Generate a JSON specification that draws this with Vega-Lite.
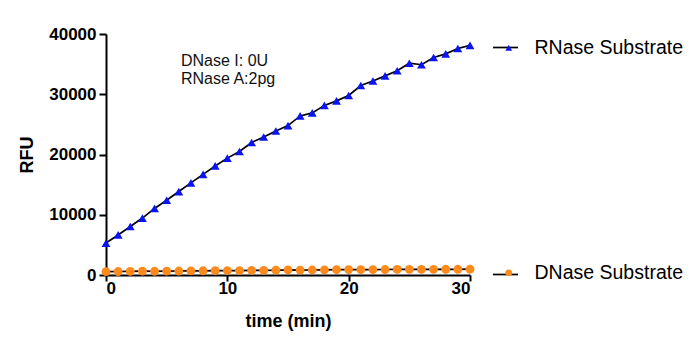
{
  "$schema": "https://vega.github.io/schema/vega-lite/v6.json",
  "width": 364,
  "height": 241,
  "autosize": {"type": "none"},
  "padding": {"left": 106, "top": 34, "right": 230, "bottom": 76},
  "background": "white",
  "config": {
    "view": {"stroke": null},
    "font": "Liberation Sans",
    "axis": {
      "grid": false,
      "domainColor": "black",
      "domainWidth": 2,
      "tickColor": "black",
      "tickWidth": 2,
      "tickSize": 7,
      "labelColor": "black",
      "labelFont": "Liberation Sans",
      "labelFontWeight": "bold",
      "labelFontSize": 17,
      "titleColor": "black",
      "titleFont": "Liberation Sans",
      "titleFontWeight": "bold",
      "titleFontSize": 18
    },
    "legend": {
      "labelFont": "Liberation Sans",
      "labelFontSize": 19.5,
      "labelColor": "black",
      "padding": 0,
      "offset": 0
    }
  },
  "data": {
    "values": [
      {"t": 0, "series": "RNase Substrate", "rfu": 5300},
      {"t": 1, "series": "RNase Substrate", "rfu": 6650},
      {"t": 2, "series": "RNase Substrate", "rfu": 8050},
      {"t": 3, "series": "RNase Substrate", "rfu": 9450},
      {"t": 4, "series": "RNase Substrate", "rfu": 11050},
      {"t": 5, "series": "RNase Substrate", "rfu": 12400},
      {"t": 6, "series": "RNase Substrate", "rfu": 13850},
      {"t": 7, "series": "RNase Substrate", "rfu": 15300},
      {"t": 8, "series": "RNase Substrate", "rfu": 16700},
      {"t": 9, "series": "RNase Substrate", "rfu": 18100},
      {"t": 10, "series": "RNase Substrate", "rfu": 19400},
      {"t": 11, "series": "RNase Substrate", "rfu": 20500},
      {"t": 12, "series": "RNase Substrate", "rfu": 22000},
      {"t": 13, "series": "RNase Substrate", "rfu": 22900},
      {"t": 14, "series": "RNase Substrate", "rfu": 23900},
      {"t": 15, "series": "RNase Substrate", "rfu": 24800},
      {"t": 16, "series": "RNase Substrate", "rfu": 26400},
      {"t": 17, "series": "RNase Substrate", "rfu": 26900},
      {"t": 18, "series": "RNase Substrate", "rfu": 28150},
      {"t": 19, "series": "RNase Substrate", "rfu": 28900},
      {"t": 20, "series": "RNase Substrate", "rfu": 29800},
      {"t": 21, "series": "RNase Substrate", "rfu": 31450},
      {"t": 22, "series": "RNase Substrate", "rfu": 32200},
      {"t": 23, "series": "RNase Substrate", "rfu": 33050},
      {"t": 24, "series": "RNase Substrate", "rfu": 33900},
      {"t": 25, "series": "RNase Substrate", "rfu": 35150},
      {"t": 26, "series": "RNase Substrate", "rfu": 34900},
      {"t": 27, "series": "RNase Substrate", "rfu": 36100},
      {"t": 28, "series": "RNase Substrate", "rfu": 36700},
      {"t": 29, "series": "RNase Substrate", "rfu": 37600},
      {"t": 30, "series": "RNase Substrate", "rfu": 38100},
      {"t": 0, "series": "DNase Substrate", "rfu": 550},
      {"t": 1, "series": "DNase Substrate", "rfu": 580},
      {"t": 2, "series": "DNase Substrate", "rfu": 600},
      {"t": 3, "series": "DNase Substrate", "rfu": 630},
      {"t": 4, "series": "DNase Substrate", "rfu": 620},
      {"t": 5, "series": "DNase Substrate", "rfu": 650},
      {"t": 6, "series": "DNase Substrate", "rfu": 660},
      {"t": 7, "series": "DNase Substrate", "rfu": 690},
      {"t": 8, "series": "DNase Substrate", "rfu": 700},
      {"t": 9, "series": "DNase Substrate", "rfu": 710},
      {"t": 10, "series": "DNase Substrate", "rfu": 730},
      {"t": 11, "series": "DNase Substrate", "rfu": 740},
      {"t": 12, "series": "DNase Substrate", "rfu": 760},
      {"t": 13, "series": "DNase Substrate", "rfu": 770},
      {"t": 14, "series": "DNase Substrate", "rfu": 790},
      {"t": 15, "series": "DNase Substrate", "rfu": 840},
      {"t": 16, "series": "DNase Substrate", "rfu": 820},
      {"t": 17, "series": "DNase Substrate", "rfu": 830},
      {"t": 18, "series": "DNase Substrate", "rfu": 860},
      {"t": 19, "series": "DNase Substrate", "rfu": 880},
      {"t": 20, "series": "DNase Substrate", "rfu": 900},
      {"t": 21, "series": "DNase Substrate", "rfu": 890},
      {"t": 22, "series": "DNase Substrate", "rfu": 900},
      {"t": 23, "series": "DNase Substrate", "rfu": 910},
      {"t": 24, "series": "DNase Substrate", "rfu": 920},
      {"t": 25, "series": "DNase Substrate", "rfu": 930},
      {"t": 26, "series": "DNase Substrate", "rfu": 930},
      {"t": 27, "series": "DNase Substrate", "rfu": 940},
      {"t": 28, "series": "DNase Substrate", "rfu": 950},
      {"t": 29, "series": "DNase Substrate", "rfu": 950},
      {"t": 30, "series": "DNase Substrate", "rfu": 960}
    ]
  },
  "layer": [
    {
      "mark": {"type": "line", "strokeWidth": 1.7},
      "encoding": {
        "x": {"field": "t", "type": "quantitative", "scale": {"domain": [0, 30], "nice": false}, "axis": {"values": [0, 10, 20, 30], "title": "time (min)", "titlePadding": 16, "labelPadding": -1, "tickSize": 6, "format": "d"}},
        "y": {"field": "rfu", "type": "quantitative", "scale": {"domain": [0, 40000], "nice": false}, "axis": {"values": [0, 10000, 20000, 30000, 40000], "title": "RFU", "titlePadding": 12, "labelPadding": 3, "format": "d"}},
        "stroke": {
          "field": "series", "type": "nominal",
          "scale": {"domain": ["DNase Substrate", "RNase Substrate"], "range": ["black", "black"]},
          "legend": {"orient": "none", "legendX": 386, "legendY": 0, "title": null, "symbolType": "stroke", "symbolSize": 625, "symbolStrokeWidth": 1.7, "rowPadding": 204, "labelExpr": "''", "labelOffset": 15, "zindex": 1}
        }
      }
    },
    {
      "mark": {"type": "point", "filled": true, "size": 78, "opacity": 1},
      "encoding": {
        "x": {"field": "t", "type": "quantitative"},
        "y": {"field": "rfu", "type": "quantitative"},
        "fill": {
          "field": "series", "type": "nominal",
          "scale": {"domain": ["RNase Substrate", "DNase Substrate"], "range": ["#0a14f0", "#ff8a1c"]},
          "legend": {"orient": "none", "legendX": 393, "legendY": 4, "title": null, "symbolSize": 45, "symbolOpacity": 1, "rowPadding": 204, "labelOffset": 16, "zindex": 2}
        },
        "shape": {
          "field": "series", "type": "nominal",
          "scale": {"domain": ["RNase Substrate", "DNase Substrate"], "range": ["triangle-up", "circle"]},
          "legend": {"orient": "none", "legendX": 393, "legendY": 4, "title": null, "symbolSize": 45, "symbolOpacity": 1, "rowPadding": 204, "labelOffset": 16, "zindex": 2}
        }
      }
    },
    {
      "data": {"values": [{"note": "DNase I: 0U\nRNase A:2pg"}]},
      "mark": {"type": "text", "align": "left", "baseline": "top", "fontSize": 16, "lineHeight": 18, "lineBreak": "\n", "color": "#111", "font": "Liberation Sans"},
      "encoding": {
        "x": {"datum": 6.18},
        "y": {"datum": 36900},
        "text": {"field": "note"}
      }
    }
  ]
}
